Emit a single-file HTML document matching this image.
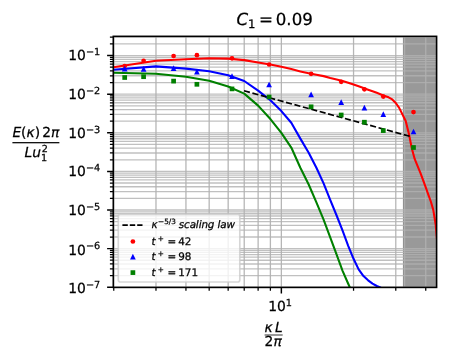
<!DOCTYPE html>
<html lang="en"><head><meta charset="utf-8"><title>Energy spectrum</title>
<style>html,body{margin:0;padding:0;background:#fff}svg{display:block}</style></head>
<body>
<svg text-rendering="geometricPrecision" width="449" height="362" viewBox="0 0 449 362" font-family="'DejaVu Sans', 'Liberation Sans', sans-serif">
<rect width="449" height="362" fill="#fff"/>
<clipPath id="axclip"><rect x="113.3" y="36.35" width="323.3" height="251.05"/></clipPath>
<g clip-path="url(#axclip)">
<rect x="403.6" y="31.35" width="38.0" height="261.05" fill="#808080" fill-opacity="0.8" stroke="#808080" stroke-opacity="0.8" stroke-width="1.39"/>
<line x1="404.65" x2="404.65" y1="36.35" y2="287.4" stroke="#b0b0b0" stroke-width="1.1"/>
<path d="M113.75 36.35V287.4M155.98 36.35V287.4M185.94 36.35V287.4M209.18 36.35V287.4M228.16 36.35V287.4M244.22 36.35V287.4M258.12 36.35V287.4M270.39 36.35V287.4M281.36 36.35V287.4M353.55 36.35V287.4M395.78 36.35V287.4M425.74 36.35V287.4" fill="none" stroke="#b0b0b0" stroke-opacity="0.92" stroke-width="1.3"/>
<path d="M113.3 287.23H436.6M113.3 275.61H436.6M113.3 268.81H436.6M113.3 263.98H436.6M113.3 260.24H436.6M113.3 257.19H436.6M113.3 254.6H436.6M113.3 252.36H436.6M113.3 250.39H436.6M113.3 248.62H436.6M113.3 237H436.6M113.3 230.2H436.6M113.3 225.37H436.6M113.3 221.63H436.6M113.3 218.58H436.6M113.3 215.99H436.6M113.3 213.75H436.6M113.3 211.78H436.6M113.3 210.01H436.6M113.3 198.39H436.6M113.3 191.59H436.6M113.3 186.76H436.6M113.3 183.02H436.6M113.3 179.97H436.6M113.3 177.38H436.6M113.3 175.14H436.6M113.3 173.17H436.6M113.3 171.4H436.6M113.3 159.78H436.6M113.3 152.98H436.6M113.3 148.15H436.6M113.3 144.41H436.6M113.3 141.36H436.6M113.3 138.77H436.6M113.3 136.53H436.6M113.3 134.56H436.6M113.3 132.79H436.6M113.3 121.17H436.6M113.3 114.37H436.6M113.3 109.54H436.6M113.3 105.8H436.6M113.3 102.75H436.6M113.3 100.16H436.6M113.3 97.92H436.6M113.3 95.95H436.6M113.3 94.18H436.6M113.3 82.56H436.6M113.3 75.76H436.6M113.3 70.93H436.6M113.3 67.19H436.6M113.3 64.14H436.6M113.3 61.55H436.6M113.3 59.31H436.6M113.3 57.34H436.6M113.3 55.57H436.6M113.3 43.95H436.6M113.3 37.15H436.6" fill="none" stroke="#b0b0b0" stroke-opacity="0.8" stroke-width="1.3"/>
<path d="M113.3 67.3L155.98 60.7L185.94 59.19L209.18 58.3L228.16 58.61L244.22 60.13L258.12 62.54L270.39 64.55L281.36 66.76L291.29 69.11L300.35 71.39L308.69 73.34L316.4 74.79L323.59 76.13L330.31 77.9L336.62 79.41L342.58 80.92L348.21 82.73L353.55 84.55L358.63 86.31L363.48 88.04L368.11 89.68L372.54 91.27L376.79 92.83L380.87 94.42L384.8 95.92L388.59 97.33L392.25 99.46L395.78 103L399.19 107.88L402.5 114.47L405.7 120.97L408.81 133.41L411.83 148.57L414.76 159.18L417.62 166.15L420.4 172.97L423.1 180.16L425.74 187.3L428.31 194.59L430.82 201.52L433.27 209.87L435.66 224.52L437.5 245" fill="none" stroke="#ff0000" stroke-width="2.08" stroke-linejoin="round"/>
<path d="M113.3 69.8L155.98 66.4L185.94 68.62L209.18 71.34L228.16 75.19L244.22 81.01L258.12 90.56L270.39 100.25L281.36 111.06L291.29 122.78L300.35 138.62L308.69 152.77L316.4 167.75L323.59 183.41L330.31 200.22L336.62 215.49L342.58 230.57L348.21 245.79L353.55 258.82L358.63 269.42L363.48 276.04L368.11 280.35L372.54 283.6L376.79 286.01L380.87 287.76L383 288.5" fill="none" stroke="#0000ff" stroke-width="2.08" stroke-linejoin="round"/>
<path d="M113.3 72.7L155.98 73.8L185.94 76.8L209.18 80.66L228.16 86.52L244.22 93.62L258.12 105.62L270.39 119.06L281.36 132.85L291.29 147.55L300.35 167.73L308.69 184.48L316.4 202.34L323.59 219.6L330.31 237.6L336.62 254.55L342.58 270.81L348.21 283.74L350.8 289.5" fill="none" stroke="#008000" stroke-width="2.08" stroke-linejoin="round"/>
<path d="M244.0 90.8L411.3 136.7" fill="none" stroke="#000" stroke-width="1.67" stroke-dasharray="6.1 2.62"/>
<circle cx="124.7" cy="66.0" r="2.35" fill="#ff0000"/>
<circle cx="143.6" cy="60.8" r="2.35" fill="#ff0000"/>
<circle cx="173.6" cy="56.0" r="2.35" fill="#ff0000"/>
<circle cx="196.9" cy="55.2" r="2.35" fill="#ff0000"/>
<circle cx="232.0" cy="58.3" r="2.35" fill="#ff0000"/>
<circle cx="269.1" cy="64.5" r="2.35" fill="#ff0000"/>
<circle cx="311.1" cy="73.8" r="2.35" fill="#ff0000"/>
<circle cx="341.2" cy="81.8" r="2.35" fill="#ff0000"/>
<circle cx="364.4" cy="89.3" r="2.35" fill="#ff0000"/>
<circle cx="383.3" cy="96.6" r="2.35" fill="#ff0000"/>
<circle cx="413.5" cy="112.1" r="2.35" fill="#ff0000"/>
<path d="M124.7 65.84L121.85 71.53H127.55Z" fill="#0000ff"/>
<path d="M143.6 65.94L140.75 71.63H146.45Z" fill="#0000ff"/>
<path d="M173.6 65.24L170.75 70.93H176.45Z" fill="#0000ff"/>
<path d="M196.9 68.84L194.05 74.53H199.75Z" fill="#0000ff"/>
<path d="M232 73.24L229.15 78.93H234.85Z" fill="#0000ff"/>
<path d="M269.1 81.64L266.25 87.33H271.95Z" fill="#0000ff"/>
<path d="M311.1 91.54L308.25 97.23H313.95Z" fill="#0000ff"/>
<path d="M341.2 99.34L338.35 105.03H344.05Z" fill="#0000ff"/>
<path d="M364.4 104.84L361.55 110.53H367.25Z" fill="#0000ff"/>
<path d="M383.3 111.24L380.45 116.93H386.15Z" fill="#0000ff"/>
<path d="M413.5 128.64L410.65 134.33H416.35Z" fill="#0000ff"/>
<rect x="122.35" y="75.15" width="4.7" height="4.7" fill="#008000"/>
<rect x="141.25" y="74.35" width="4.7" height="4.7" fill="#008000"/>
<rect x="171.25" y="78.75" width="4.7" height="4.7" fill="#008000"/>
<rect x="194.55" y="81.95" width="4.7" height="4.7" fill="#008000"/>
<rect x="229.65" y="86.55" width="4.7" height="4.7" fill="#008000"/>
<rect x="266.75" y="94.65" width="4.7" height="4.7" fill="#008000"/>
<rect x="308.75" y="104.45" width="4.7" height="4.7" fill="#008000"/>
<rect x="338.85" y="112.65" width="4.7" height="4.7" fill="#008000"/>
<rect x="362.05" y="119.85" width="4.7" height="4.7" fill="#008000"/>
<rect x="380.95" y="128.25" width="4.7" height="4.7" fill="#008000"/>
<rect x="411.15" y="145.15" width="4.7" height="4.7" fill="#008000"/>
</g>
<path d="M281.36 287.4v6.2M113.3 287.23h-6.2M113.3 248.62h-6.2M113.3 210.01h-6.2M113.3 171.4h-6.2M113.3 132.79h-6.2M113.3 94.18h-6.2M113.3 55.57h-6.2" fill="none" stroke="#000" stroke-width="1.45"/>
<path d="M113.75 287.4v3.4M155.98 287.4v3.4M185.94 287.4v3.4M209.18 287.4v3.4M228.16 287.4v3.4M244.22 287.4v3.4M258.12 287.4v3.4M270.39 287.4v3.4M353.55 287.4v3.4M395.78 287.4v3.4M425.74 287.4v3.4M113.3 275.61h-3.4M113.3 268.81h-3.4M113.3 263.98h-3.4M113.3 260.24h-3.4M113.3 257.19h-3.4M113.3 254.6h-3.4M113.3 252.36h-3.4M113.3 250.39h-3.4M113.3 237h-3.4M113.3 230.2h-3.4M113.3 225.37h-3.4M113.3 221.63h-3.4M113.3 218.58h-3.4M113.3 215.99h-3.4M113.3 213.75h-3.4M113.3 211.78h-3.4M113.3 198.39h-3.4M113.3 191.59h-3.4M113.3 186.76h-3.4M113.3 183.02h-3.4M113.3 179.97h-3.4M113.3 177.38h-3.4M113.3 175.14h-3.4M113.3 173.17h-3.4M113.3 159.78h-3.4M113.3 152.98h-3.4M113.3 148.15h-3.4M113.3 144.41h-3.4M113.3 141.36h-3.4M113.3 138.77h-3.4M113.3 136.53h-3.4M113.3 134.56h-3.4M113.3 121.17h-3.4M113.3 114.37h-3.4M113.3 109.54h-3.4M113.3 105.8h-3.4M113.3 102.75h-3.4M113.3 100.16h-3.4M113.3 97.92h-3.4M113.3 95.95h-3.4M113.3 82.56h-3.4M113.3 75.76h-3.4M113.3 70.93h-3.4M113.3 67.19h-3.4M113.3 64.14h-3.4M113.3 61.55h-3.4M113.3 59.31h-3.4M113.3 57.34h-3.4M113.3 43.95h-3.4M113.3 37.15h-3.4" fill="none" stroke="#000" stroke-width="1.25"/>
<rect x="113.3" y="36.35" width="323.3" height="251.05" fill="none" stroke="#000" stroke-width="1.6"/>
<g fill="#000" stroke="#000" stroke-width="0.25">
<text x="68.3" y="293.03" font-size="13.89">10<tspan dy="-5.32" font-size="9.72">−7</tspan></text>
<text x="68.3" y="254.52" font-size="13.89">10<tspan dy="-5.32" font-size="9.72">−6</tspan></text>
<text x="68.3" y="215.31" font-size="13.89">10<tspan dy="-5.32" font-size="9.72">−5</tspan></text>
<text x="68.3" y="176.3" font-size="13.89">10<tspan dy="-5.32" font-size="9.72">−4</tspan></text>
<text x="68.3" y="138.09" font-size="13.89">10<tspan dy="-5.32" font-size="9.72">−3</tspan></text>
<text x="68.3" y="99.48" font-size="13.89">10<tspan dy="-5.32" font-size="9.72">−2</tspan></text>
<text x="68.3" y="60.27" font-size="13.89">10<tspan dy="-5.32" font-size="9.72">−1</tspan></text>
<text x="268.2" y="310.5" font-size="13.89">10<tspan dy="-4.58" font-size="9.72">1</tspan></text>
<text y="25.2" font-size="16.67"><tspan x="236.5" font-style="oblique">C</tspan><tspan x="247.94" dy="2.93" font-size="11.67">1</tspan><tspan x="258.97" dy="-2.93">=</tspan><tspan x="275.78">0.09</tspan></text>
<text font-size="13.81"><tspan x="264.6" y="332.09" font-style="oblique">κ</tspan><tspan x="274.98" font-style="oblique">L</tspan><tspan x="264.6" y="345.8">2</tspan><tspan x="273.38" font-style="oblique">π</tspan></text>
<rect x="264.6" y="334.5" width="18.07" height="1" fill="#333" stroke="none"/>
<text font-size="13.81"><tspan x="12.4" y="136.74" font-style="oblique">E</tspan><tspan x="21.12">(</tspan><tspan x="26.51" font-style="oblique">κ</tspan><tspan x="34.65">)</tspan><tspan x="42.27">2</tspan><tspan x="51.06" font-style="oblique">π</tspan><tspan x="24.59" y="156.55" font-style="oblique">Lu</tspan><tspan x="41.03" y="160.85" font-size="9.66">1</tspan><tspan x="41.65" y="152.19" font-size="9.66">2</tspan></text>
<rect x="12.4" y="142.08" width="46.97" height="1.23" stroke="none"/>
</g>
<rect x="118.3" y="214.3" width="121.5" height="67.7" rx="2" ry="2" fill="#fff" fill-opacity="0.8" stroke="#ccc" stroke-opacity="0.8" stroke-width="1.67"/>
<path d="M122.4 225.1H142.5" stroke="#000" stroke-width="1.67" stroke-dasharray="5.4 2"/>
<circle cx="132.9" cy="241.5" r="2.35" fill="#ff0000"/>
<path d="M132.9 253.84L130.05 259.53H135.75Z" fill="#0000ff"/>
<rect x="130.55" y="270.25" width="4.7" height="4.7" fill="#008000"/>
<g fill="#000" stroke="#000" stroke-width="0.25">
<text y="227.8" font-size="10.4"><tspan x="151.5" font-style="oblique">κ</tspan><tspan x="158.09" dy="-3.98" font-size="7.28">−5/3</tspan><tspan x="178.77" dy="3.98" font-style="oblique" letter-spacing="-0.13">scaling law</tspan></text>
<text y="244.9" font-size="10.4"><tspan x="151.5" font-style="oblique">t</tspan><tspan x="157.69" dy="-3.98" font-size="7.28">+</tspan><tspan x="167.52" dy="3.98">=</tspan><tspan x="178.26">42</tspan></text>
<text y="260.3" font-size="10.4"><tspan x="151.5" font-style="oblique">t</tspan><tspan x="157.69" dy="-3.98" font-size="7.28">+</tspan><tspan x="167.52" dy="3.98">=</tspan><tspan x="178.26">98</tspan></text>
<text y="275.7" font-size="10.4"><tspan x="151.5" font-style="oblique">t</tspan><tspan x="157.69" dy="-3.98" font-size="7.28">+</tspan><tspan x="167.52" dy="3.98">=</tspan><tspan x="178.26">171</tspan></text>
</g>
</svg>
</body></html>
